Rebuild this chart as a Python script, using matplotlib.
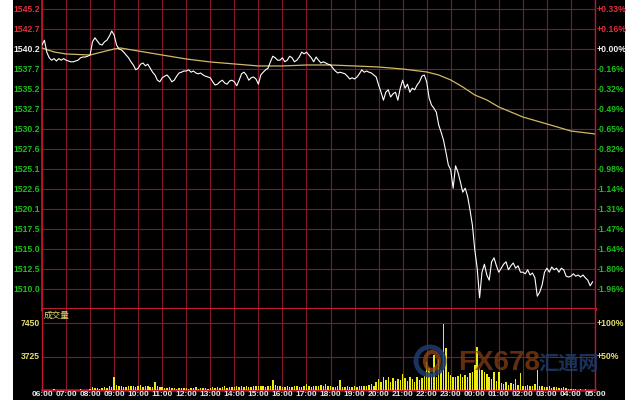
import numpy as np
import matplotlib
matplotlib.use("Agg")
import matplotlib.pyplot as plt
from matplotlib.patches import Ellipse, Wedge
import matplotlib.transforms as mtransforms

plt.rcParams['font.family'] = ['Liberation Sans', 'Noto Sans CJK SC', 'DejaVu Sans']

# ---------------- data ----------------
time_labels = ["06:00", "07:00", "08:00", "09:00", "10:00", "11:00", "12:00", "13:00",
               "14:00", "15:00", "16:00", "17:00", "18:00", "19:00", "20:00", "21:00",
               "22:00", "23:00", "00:00", "01:00", "02:00", "03:00", "04:00", "05:00"]

price_labels = ["1545.2", "1542.7", "1540.2", "1537.7", "1535.2", "1532.7", "1530.2", "1527.6",
                "1525.1", "1522.6", "1520.1", "1517.5", "1515.0", "1512.5", "1510.0"]
pct_labels = ["+0.33%", "+0.16%", "+0.00%", "-0.16%", "-0.32%", "-0.49%", "-0.65%", "-0.82%",
              "-0.98%", "-1.14%", "-1.31%", "-1.47%", "-1.64%", "-1.80%", "-1.96%"]
base_price = 1540.2
price_step = 2.5

# price, sampled every 0.1 hour from 06:00 (10 values per hour)
price = [
    1540.7, 1541.3, 1539.8, 1539.1, 1538.8, 1539.0, 1538.7, 1539.0, 1538.8, 1539.0,
    1538.8, 1538.7, 1538.6, 1538.6, 1538.7, 1538.8, 1539.1, 1539.2, 1539.2, 1539.3,
    1539.45, 1541.1, 1541.6, 1541.2, 1540.8, 1540.7, 1541.1, 1541.3, 1541.8, 1542.45,
    1541.95, 1540.7, 1540.2, 1540.1, 1539.8, 1539.45, 1539.1, 1538.6, 1538.2, 1537.6,
    1537.8, 1538.3, 1538.45, 1538.1, 1538.3, 1537.8, 1537.3, 1536.95, 1536.3, 1536.1,
    1536.6, 1536.8, 1536.95, 1536.6, 1536.1, 1536.3, 1536.8, 1537.2, 1537.3, 1537.45,
    1537.45, 1537.6, 1537.3, 1537.45, 1537.2, 1537.1, 1537.2, 1536.95, 1536.8, 1536.7,
    1536.6, 1536.1, 1535.7, 1535.8, 1536.1, 1536.3, 1535.95, 1535.8, 1536.2, 1536.3,
    1536.1, 1535.6, 1536.3, 1537.1, 1537.3, 1536.95, 1536.3, 1536.6, 1536.7, 1536.45,
    1535.8, 1536.95, 1537.3, 1537.6, 1537.8, 1538.6, 1539.3, 1539.1, 1538.8, 1538.8,
    1539.1, 1538.6, 1538.8, 1539.3, 1539.1, 1538.6, 1538.8, 1539.2, 1539.8, 1539.6,
    1539.8, 1539.45, 1539.1, 1538.6, 1539.2, 1538.8, 1538.45, 1538.6, 1538.45, 1538.3,
    1538.2, 1537.8, 1537.45, 1537.2, 1537.3, 1537.2, 1537.1, 1536.8, 1536.45, 1536.6,
    1536.45, 1536.7, 1537.1, 1537.6, 1537.3, 1537.45, 1537.3, 1537.2, 1536.95, 1536.7,
    1535.7, 1534.8, 1533.8, 1534.8, 1535.1, 1534.2, 1534.6, 1534.8, 1533.8, 1535.3,
    1536.3, 1535.3, 1535.8, 1534.8, 1535.3, 1535.1, 1535.7, 1536.1, 1536.8, 1536.95,
    1536.1, 1534.1, 1533.2, 1532.8, 1532.3, 1530.7, 1529.8, 1528.8, 1527.3, 1525.7,
    1525.1, 1522.8, 1525.6, 1524.8, 1523.6, 1522.3, 1522.8, 1521.8, 1520.1, 1518.2,
    1515.1, 1512.8, 1509.1, 1512.3, 1513.3, 1511.95, 1511.3, 1513.6, 1514.1, 1513.1,
    1512.3, 1512.8, 1513.3, 1513.6, 1512.6, 1513.1, 1513.45, 1512.8, 1513.1, 1512.3,
    1512.3, 1512.1, 1512.6, 1511.95, 1512.2, 1511.6, 1509.3, 1509.8, 1510.7, 1512.3,
    1512.8, 1512.3, 1512.95, 1512.6, 1512.8, 1512.3, 1512.8, 1512.6, 1511.8, 1511.7,
    1511.8, 1512.1, 1511.8, 1511.95, 1511.7, 1511.95, 1511.6, 1511.3, 1510.6, 1511.1,
]
price_hours = np.arange(len(price)) * 0.1

# average price line read at anchor times
avg_hours = [0, 0.5, 1, 2, 2.5, 3, 3.25, 4, 5, 6, 7, 8, 9, 10, 11, 12, 13, 14, 15, 16,
             16.5, 17, 17.5, 18, 18.5, 19, 20, 21, 22, 23]
avg_price = [1540.33, 1539.83, 1539.58, 1539.45, 1539.83, 1540.2, 1540.33, 1539.95, 1539.45,
             1538.95, 1538.58, 1538.33, 1538.08, 1538.08, 1538.2, 1538.2, 1538.08, 1537.95,
             1537.7, 1537.33, 1536.95, 1536.33, 1535.45, 1534.45, 1533.83, 1532.95, 1531.7,
             1530.83, 1529.95, 1529.58]

# volume, every 0.1 hour
volume = [
    50, 30, 40, 20, 30, 60, 20, 30, 40, 30,
    40, 30, 50, 20, 30, 40, 60, 30, 50, 40,
    150, 300, 200, 250, 150, 200, 300, 250, 400, 350,
    1450, 600, 400, 500, 350, 300, 450, 400, 500, 350,
    400, 550, 300, 450, 500, 300, 350, 900, 500, 300,
    300, 250, 200, 300, 200, 250, 150, 200, 250, 200,
    200, 150, 250, 200, 300, 150, 200, 250, 200, 150,
    250, 300, 200, 350, 250, 300, 400, 250, 300, 350,
    300, 400, 350, 500, 300, 450, 350, 300, 500, 400,
    450, 500, 400, 350, 500, 400, 1100, 600, 450, 400,
    350, 300, 400, 350, 300, 450, 400, 350, 300, 400,
    650, 400, 300, 500, 450, 400, 600, 450, 700, 500,
    400, 350, 300, 500, 1100, 300, 350, 400, 300, 350,
    400, 350, 500, 450, 400, 500, 600, 700, 500, 900,
    1200, 900, 1400, 1100, 1500, 900, 1300, 1000, 1200, 1100,
    1800, 1300, 1000, 1400, 1200, 900, 1500, 1100, 1300, 1600,
    3100, 2500, 1800, 3900, 1500, 3500, 2200, 7350, 4700, 2000,
    1700, 1500, 1400, 1600, 1800, 1500, 1700, 1400, 1900, 2000,
    2800, 4800, 2500, 2200, 2000, 1800, 1500, 1200, 2000, 1000,
    2000, 800, 700, 900, 600, 800, 700, 1200, 600, 1900,
    500, 400, 600, 500, 400, 700, 2200, 500, 400, 300,
    300, 400, 250, 350, 300, 200, 250, 300, 200, 150,
    100, 80, 60, 50, 80, 40, 60, 50, 30, 40,
]
vol_hours = np.arange(len(volume)) * 0.1
vol_ticks = [3725, 7450]
vol_tick_labels = ["3725", "7450"]
vol_pct_labels = ["+50%", "+100%"]

# ---------------- style ----------------
W, H = 640, 400
GRID = '#861628'
BORDER = '#c0182e'
RED = '#e0303a'
GREEN = '#19c019'
WHITE = '#f0f0f0'
YEL = '#e8e070'

fig = plt.figure(figsize=(6.4, 4.0), dpi=100)
fig.patch.set_facecolor('white')
bg = fig.add_axes([13 / W, 0, (625 - 13) / W, 1], zorder=-10)
bg.set_facecolor('black')
bg.set_xticks([])
bg.set_yticks([])
for s in bg.spines.values():
    s.set_visible(False)

L, R = 42, 595
ax = fig.add_axes([L / W, (H - 309) / H, (R - L) / W, 309 / H])
axv = fig.add_axes([L / W, (H - 390) / H, (R - L) / W, 81 / H])

for a in (ax, axv):
    a.set_facecolor('black')
    a.set_xlim(0, 23)
    a.set_xticks(range(24))
    a.tick_params(length=0, labelbottom=False, labelleft=False)
    a.grid(True, color=GRID, linewidth=0.8)
    a.set_axisbelow(True)

# main price axes
ymin = base_price - price_step * 12 - 20 * 0.125
ymax = base_price + price_step * 2 + 9 * 0.125
ax.set_ylim(ymin, ymax)
ticks = [base_price + price_step * (2 - i) for i in range(len(price_labels))]
ax.set_yticks(ticks)
ax.spines['top'].set_visible(False)
ax.spines['left'].set_color(BORDER)
ax.spines['left'].set_linewidth(1.2)
ax.spines['right'].set_color(BORDER)
ax.spines['right'].set_linewidth(1.0)
ax.spines['bottom'].set_color(BORDER)
ax.spines['bottom'].set_linewidth(2.2)

ax.plot(avg_hours, avg_price, color='#d2b866', linewidth=0.9, zorder=3)
ax.plot(price_hours, price, color='white', linewidth=0.8, zorder=4)

tl = mtransforms.blended_transform_factory(ax.transAxes, ax.transData)
for i, (t, lab, pl) in enumerate(zip(ticks, price_labels, pct_labels)):
    c = RED if i < 2 else (WHITE if i == 2 else GREEN)
    ax.text(-2.0 / (R - L), t, lab, transform=tl, ha='right', va='center',
            fontsize=6.2, color=c, fontweight='bold')
    ax.text(1 + 2.0 / (R - L), t, pl, transform=tl, ha='left', va='center',
            fontsize=6.2, color=c, fontweight='bold')

# volume axes
vtop = 7450 * 81 / 67
axv.set_ylim(0, vtop)
axv.set_yticks(vol_ticks)
axv.spines['top'].set_visible(False)
for s in ('left', 'right'):
    axv.spines[s].set_color(BORDER)
    axv.spines[s].set_linewidth(1.0)
axv.spines['bottom'].set_color(BORDER)
axv.spines['bottom'].set_linewidth(1.8)
axv.bar(vol_hours, volume, width=0.06, color='#ecec10', edgecolor='none', zorder=3)

tv = mtransforms.blended_transform_factory(axv.transAxes, axv.transData)
for t, lab, pl in zip(vol_ticks, vol_tick_labels, vol_pct_labels):
    axv.text(-2.0 / (R - L), t, lab, transform=tv, ha='right', va='center',
             fontsize=6.2, color=YEL, fontweight='bold')
    axv.text(1 + 2.0 / (R - L), t, pl, transform=tv, ha='left', va='center',
             fontsize=6.2, color=YEL, fontweight='bold', zorder=6)
axv.text(2.0 / (R - L), 1 - 6.0 / 81, "成交量", transform=axv.transAxes, ha='left', va='center',
         fontsize=6.2, color=YEL, family=['Noto Sans CJK SC', 'DejaVu Sans'])

for i, lab in enumerate(time_labels):
    axv.text(i, -4.5 * vtop / 81, lab, ha='center', va='center',
             fontsize=6.0, color='#e8e8e8', fontweight='bold', clip_on=False)

# watermark (logo ring + text)
cx, cy = (430 - L) / (R - L), (390 - 361) / 81
axv.add_patch(Ellipse((cx, cy), 28 / (R - L), 28 / 81, transform=axv.transAxes,
                      facecolor='none', edgecolor='#1e3c70', linewidth=3.5, alpha=0.85, zorder=5))
axv.add_patch(Ellipse((cx + 2 / (R - L), cy), 14 / (R - L), 18 / 81, transform=axv.transAxes,
                      facecolor='none', edgecolor='#8a4418', linewidth=3, alpha=0.8, zorder=5))
axv.text((458 - L) / (R - L), (390 - 363) / 81, "FX678", transform=axv.transAxes, ha='left',
         va='center', fontsize=20, color='#7a3a14', fontweight='bold', alpha=0.8, zorder=5)
axv.text((538 - L) / (R - L), (390 - 363) / 81, "汇通网", transform=axv.transAxes, ha='left',
         va='center', fontsize=14.5, color='#1e3a6a', alpha=0.85, zorder=5,
         family=['Noto Sans CJK SC', 'DejaVu Sans'], fontweight='bold')

fig.savefig('out.png', dpi=100, facecolor=fig.get_facecolor())
